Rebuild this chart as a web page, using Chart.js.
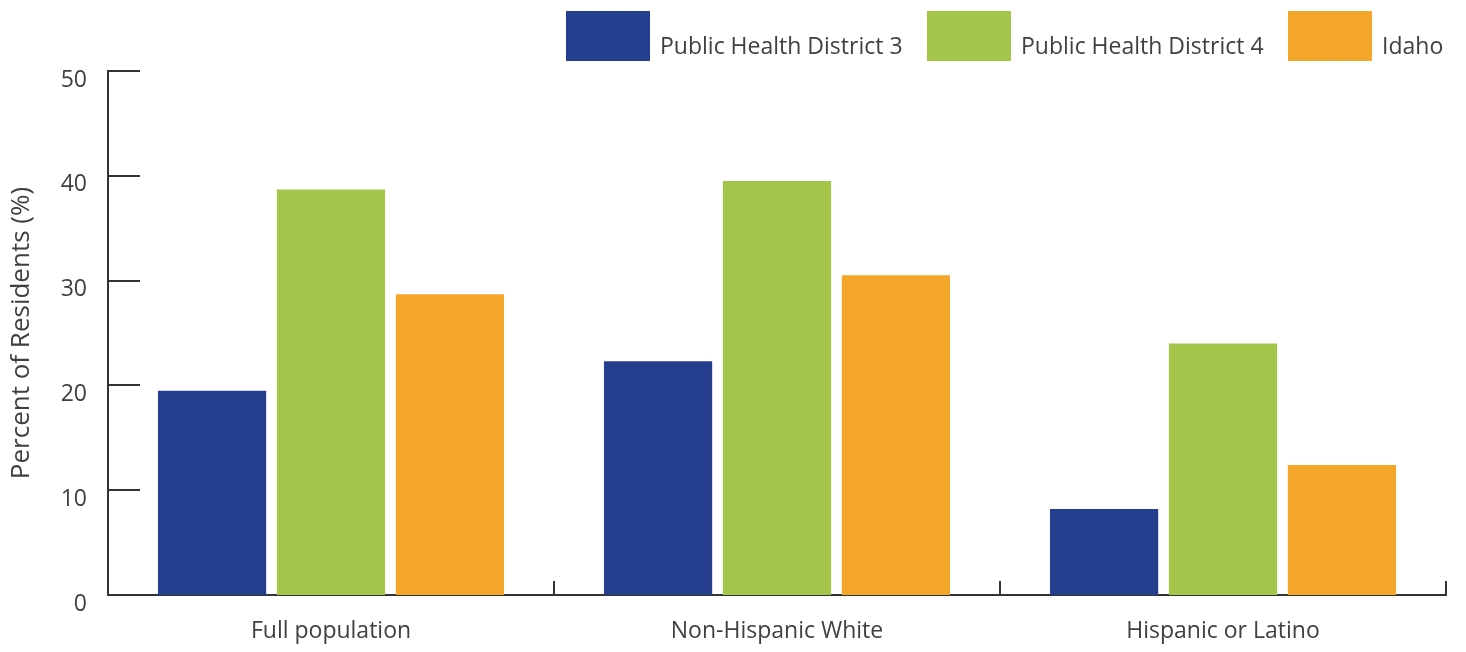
<!DOCTYPE html>
<html>
<head>
<meta charset="utf-8">
<script src="https://cdn.jsdelivr.net/npm/chart.js@4.4.1/dist/chart.umd.min.js"></script>
<style>
  html, body { margin: 0; padding: 0; background: #ffffff; }
  #wrap { width: 1466px; height: 652px; position: relative; }
</style>
</head>
<body>
<div id="wrap"><canvas id="c" width="1466" height="652"></canvas></div>
<script>
const categories = ['Full population', 'Non-Hispanic White', 'Hispanic or Latino'];
const seriesNames = ['Public Health District 3', 'Public Health District 4', 'Idaho'];
const district3 = [19.5, 22.3, 8.2];
const district4 = [38.7, 39.5, 24.0];
const idaho = [28.7, 30.5, 12.4];
const yTicks = [0, 10, 20, 30, 40, 50];
const yTitle = 'Percent of Residents (%)';

const colors = ['#253F8E', '#A3C54A', '#F4A62A'];
const textColor = '#404040';
const axisColor = '#333333';
const FONT = "'Open Sans', 'Noto Sans', sans-serif";

const legendBoxX = [566, 927, 1288];

const customPlugin = {
  id: 'custom',
  beforeDatasetsDraw(chart) {
    const ctx = chart.ctx;
    const x = chart.scales.x, y = chart.scales.y;
    ctx.save();
    ctx.strokeStyle = axisColor;
    ctx.lineWidth = 2;
    yTicks.forEach(v => {
      if (v === 0) return;
      const py = Math.round(y.getPixelForValue(v));
      ctx.beginPath();
      ctx.moveTo(x.left, py);
      ctx.lineTo(x.left + 32, py);
      ctx.stroke();
    });
    const step = x.getPixelForValue(1) - x.getPixelForValue(0);
    for (let i = 0; i < categories.length; i++) {
      const px = Math.round(x.getPixelForValue(i) + step / 2);
      ctx.beginPath();
      ctx.moveTo(px, y.bottom);
      ctx.lineTo(px, y.bottom - 14);
      ctx.stroke();
    }
    ctx.restore();
  },
  afterDraw(chart) {
    const ctx = chart.ctx;
    ctx.save();
    ctx.font = '23px ' + FONT;
    ctx.textBaseline = 'alphabetic';
    chart.data.datasets.forEach((ds, i) => {
      const bx = legendBoxX[i];
      ctx.fillStyle = ds.backgroundColor;
      ctx.fillRect(bx, 11, 84, 50);
      ctx.fillStyle = textColor;
      ctx.fillText(ds.label, bx + 94, 54);
    });
    ctx.restore();
  }
};

new Chart(document.getElementById('c'), {
  type: 'bar',
  data: {
    labels: categories,
    datasets: [
      { label: seriesNames[0], data: district3, backgroundColor: colors[0] },
      { label: seriesNames[1], data: district4, backgroundColor: colors[1] },
      { label: seriesNames[2], data: idaho, backgroundColor: colors[2] }
    ]
  },
  options: {
    responsive: false,
    animation: false,
    devicePixelRatio: 1,
    layout: { padding: { top: 71, right: 20, left: 0, bottom: 0 } },
    datasets: { bar: { categoryPercentage: 0.80, barPercentage: 0.91 } },
    plugins: { legend: { display: false }, tooltip: { enabled: false } },
    scales: {
      x: {
        offset: true,
        grid: { display: false, drawTicks: false },
        border: { display: true, color: axisColor, width: 2 },
        ticks: { color: textColor, font: { family: FONT, size: 23 }, padding: 23 },
        afterFit(s) { s.height = 57; }
      },
      y: {
        min: 0, max: 50,
        afterBuildTicks(s) { s.ticks = yTicks.map(v => ({ value: v })); },
        grid: { display: false, drawTicks: false },
        border: { display: true, color: axisColor, width: 2 },
        ticks: { color: textColor, font: { family: FONT, size: 23 }, padding: 21, labelOffset: 9 },
        title: { display: true, text: yTitle, color: textColor, font: { family: FONT, size: 26 }, padding: { top: 6, bottom: 0 } },
        afterFit(s) { s.width = 108; }
      }
    }
  },
  plugins: [customPlugin]
});
</script>
</body>
</html>
